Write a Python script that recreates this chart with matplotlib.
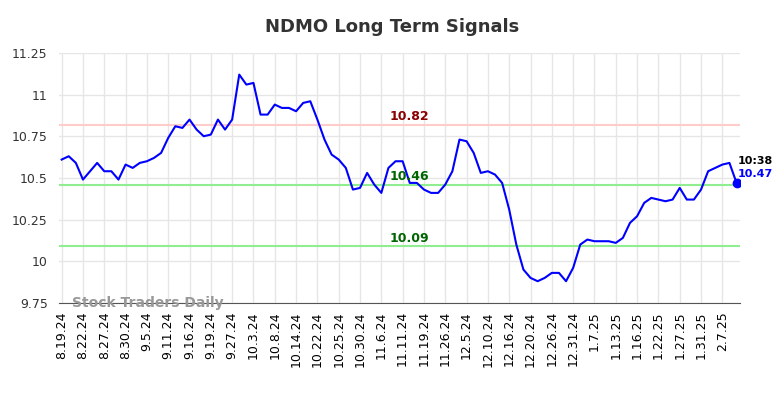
import matplotlib
matplotlib.use('Agg')
import matplotlib.pyplot as plt
from matplotlib.ticker import FuncFormatter

# Data
prices = [10.61, 10.63, 10.59, 10.49, 10.54, 10.59, 10.54, 10.54, 10.49, 10.58,
          10.56, 10.59, 10.60, 10.62, 10.65, 10.74, 10.81, 10.80, 10.85, 10.79,
          10.75, 10.76, 10.85, 10.79, 10.85, 11.12, 11.06, 11.07, 10.88, 10.88,
          10.94, 10.92, 10.92, 10.90, 10.95, 10.96, 10.85, 10.73, 10.64, 10.61,
          10.56, 10.43, 10.44, 10.53, 10.46, 10.41, 10.56, 10.60, 10.60, 10.47,
          10.47, 10.43, 10.41, 10.41, 10.46, 10.54, 10.73, 10.72, 10.65, 10.53,
          10.54, 10.52, 10.47, 10.31, 10.10, 9.95, 9.90, 9.88, 9.90, 9.93,
          9.93, 9.88, 9.96, 10.10, 10.13, 10.12, 10.12, 10.12, 10.11, 10.14,
          10.23, 10.27, 10.35, 10.38, 10.37, 10.36, 10.37, 10.44, 10.37, 10.37,
          10.43, 10.54, 10.56, 10.58, 10.59, 10.47]

tick_labels = ['8.19.24', '8.22.24', '8.27.24', '8.30.24', '9.5.24', '9.11.24',
               '9.16.24', '9.19.24', '9.27.24', '10.3.24', '10.8.24', '10.14.24',
               '10.22.24', '10.25.24', '10.30.24', '11.6.24', '11.11.24', '11.19.24',
               '11.26.24', '12.5.24', '12.10.24', '12.16.24', '12.20.24', '12.26.24',
               '12.31.24', '1.7.25', '1.13.25', '1.16.25', '1.22.25', '1.27.25',
               '1.31.25', '2.7.25']

resistance = 10.82
supports = [10.46, 10.09]
last_time = '10:38'
last_price = 10.47

fig = plt.figure(figsize=(7.84, 3.98), dpi=100)
ax = fig.add_axes([0.075, 0.239, 0.869, 0.628])

x = list(range(len(prices)))
ax.plot(x, prices, color='#0000ff', lw=1.5, zorder=3)
ax.plot(x[-1], prices[-1], 'o', color='#0000ff', ms=6, zorder=4)

# Signal levels
ax.axhline(resistance, color='#ffcccc', lw=1.5, zorder=2)
for s in supports:
    ax.axhline(s, color='#90ee90', lw=1.5, zorder=2)

label_x = 49
ax.text(label_x, resistance + 0.01, f'{resistance:.2f}', color='#8b0000',
        fontsize=9, fontweight='bold', ha='center', va='bottom')
for s in supports:
    ax.text(label_x, s + 0.01, f'{s:.2f}', color='#006400',
            fontsize=9, fontweight='bold', ha='center', va='bottom')

# Last value annotation
ax.text(x[-1] + 0.1, prices[-1] + 0.13, last_time, color='black', fontsize=8,
        fontweight='bold', ha='left', va='center')
ax.text(x[-1] + 0.1, prices[-1] + 0.055, f'{last_price:.2f}', color='#0000ff',
        fontsize=8, fontweight='bold', ha='left', va='center')

# Watermark
ax.text(1.5, 9.75, 'Stock Traders Daily', color='#999999', fontsize=10,
        fontweight='bold', ha='left', va='center')

ax.set_xlim(-0.4, 95.5)
ax.set_ylim(9.75, 11.25)
ax.set_yticks([9.75, 10, 10.25, 10.5, 10.75, 11, 11.25])
ax.yaxis.set_major_formatter(FuncFormatter(lambda v, p: f'{v:g}'))
ax.set_xticks(range(0, len(prices), 3)[:len(tick_labels)])
ax.set_xticklabels(tick_labels, rotation=90, fontsize=9)
ax.tick_params(axis='y', labelsize=9, colors='#333333', length=0, pad=8)
ax.tick_params(axis='x', length=0, pad=6)

ax.grid(True, color='#e6e6e6', lw=1)
ax.set_axisbelow(True)
for side in ['top', 'right', 'left']:
    ax.spines[side].set_visible(False)
ax.spines['bottom'].set_color('#555555')

fig.suptitle('NDMO Long Term Signals', fontsize=13, fontweight='bold',
             color='#333333', y=0.955)

plt.savefig('out.png', dpi=100)
